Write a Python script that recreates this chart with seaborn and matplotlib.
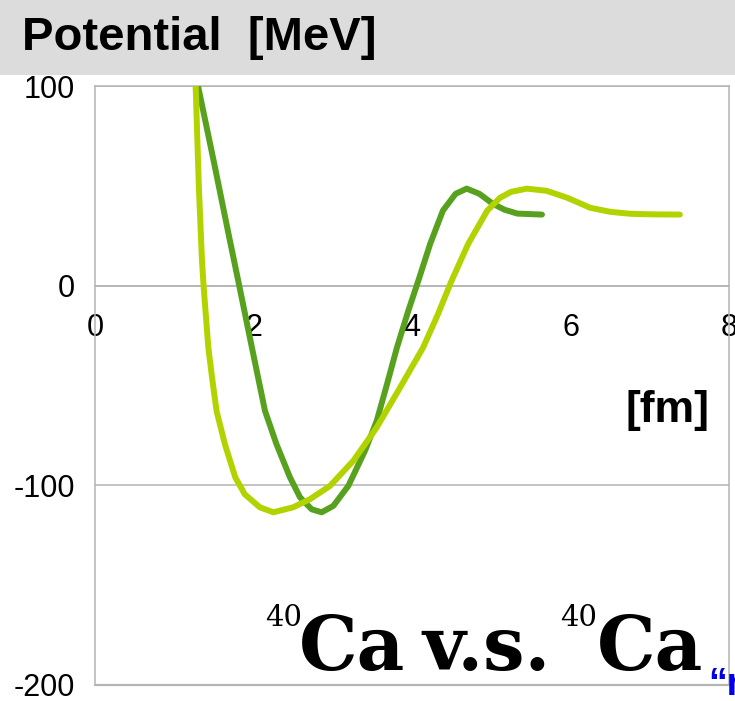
import matplotlib
matplotlib.use("Agg")
import matplotlib.pyplot as plt
import matplotlib.ticker as mticker
from matplotlib.patches import Rectangle
import pandas as pd
import seaborn as sns

# potentials (r in fm, V in MeV)
r_dark = [1.30, 1.50, 1.70, 1.82, 1.98, 2.145, 2.29, 2.46, 2.587, 2.734, 2.86, 3.007,
          3.196, 3.407, 3.555, 3.68, 3.81, 3.95, 4.08, 4.23, 4.39, 4.55, 4.69, 4.85,
          5.02, 5.17, 5.33, 5.64]
v_dark = [100, 62, 23, 0, -31, -62.7, -79.4, -96, -106, -112, -113.5, -110.3,
          -100.3, -82.7, -67.7, -50, -31, -13, 2.5, 21, 37.6, 46, 48.6, 46,
          41, 38, 36.1, 35.6]

r_light = [1.27, 1.31, 1.35, 1.37, 1.43, 1.48, 1.535, 1.64, 1.77, 1.89, 2.08, 2.25,
           2.50, 2.71, 2.965, 3.26, 3.555, 3.85, 4.14, 4.32, 4.50, 4.71, 4.95, 5.11,
           5.25, 5.45, 5.70, 5.96, 6.25, 6.50, 6.75, 7.05, 7.38]
v_light = [100, 50, 12.5, 0, -31, -47, -63, -79.5, -96, -104.5, -111, -113.5,
           -111, -107, -100.3, -87.7, -71, -51, -31, -15, 2.5, 21, 37.6, 44,
           47, 48.6, 47.5, 44, 39, 37, 36, 35.7, 35.6]

colors = {"dark": "#58a11f", "light": "#b3d300"}

df = pd.concat([
    pd.DataFrame({"r": r_dark, "V": v_dark, "series": "dark"}),
    pd.DataFrame({"r": r_light, "V": v_light, "series": "light"}),
])

sns.set_style("white")
plt.rcParams["font.family"] = ["Liberation Sans", "DejaVu Sans"]
plt.rcParams["text.color"] = "black"
plt.rcParams["axes.unicode_minus"] = False

W, H = 735, 701
fig = plt.figure(figsize=(W / 100, H / 100), dpi=100)
ax = fig.add_axes([95 / W, (H - 685) / H, (729 - 95) / W, (685 - 86) / H])

# grey header band
fig.patches.append(Rectangle((0, 1 - 75 / H), 1, 75 / H, transform=fig.transFigure,
                             facecolor="#dcdcdc", edgecolor="none", zorder=0))

sns.lineplot(data=df, x="r", y="V", hue="series", palette=colors, sort=False,
             estimator=None, legend=False, linewidth=4.3, ax=ax, zorder=3)

grey = "#b4b4b4"
ax.set_xlim(0, 8)
ax.set_ylim(-200, 100)
ax.xaxis.set_major_locator(mticker.MultipleLocator(2))
ax.xaxis.set_minor_locator(mticker.MultipleLocator(1))
ax.yaxis.set_major_locator(mticker.MultipleLocator(100))
ax.yaxis.set_minor_locator(mticker.MultipleLocator(20))
ax.spines["bottom"].set_position(("data", 0))
for s in ax.spines.values():
    s.set_color(grey)
    s.set_linewidth(1.1)
ax.yaxis.grid(True, which="major", color=grey, linewidth=1.1)
ax.axhline(-200, color=grey, linewidth=1.6, clip_on=False)
ax.set_xlabel("")
ax.set_ylabel("")

ax.tick_params(axis="x", which="major", direction="inout", length=16, width=1.1,
               color=grey, labelsize=22, pad=12, labelcolor="black")
ax.tick_params(axis="x", which="minor", direction="inout", length=11.5, width=1.1, color=grey)
ax.tick_params(axis="y", which="major", direction="out", length=7.2, width=1.1,
               color=grey, labelsize=22, pad=7, labelcolor="black")
ax.tick_params(axis="y", which="minor", direction="out", length=5.8, width=1.1, color=grey)

fig.text(22 / W, 1 - 50 / H, "Potential  [MeV]", fontsize=34, fontweight="bold",
         ha="left", va="baseline")
fig.text(667 / W, 1 - 422 / H, "[fm]", fontsize=32, fontweight="bold",
         ha="center", va="baseline")

# 40Ca v.s. 40Ca, set piece by piece
serif = "DejaVu Serif"
big = 53
fig.text(265 / W, 1 - 626 / H, "40", fontsize=21, family=serif, ha="left", va="baseline")
fig.text(299 / W, 1 - 670 / H, "Ca", fontsize=big, fontweight="bold", family=serif,
         ha="left", va="baseline")
fig.text(422 / W, 1 - 670 / H, "v.s.", fontsize=big, fontweight="bold", family=serif,
         ha="left", va="baseline")
fig.text(560 / W, 1 - 626 / H, "40", fontsize=21, family=serif, ha="left", va="baseline")
fig.text(597 / W, 1 - 670 / H, "Ca", fontsize=big, fontweight="bold", family=serif,
         ha="left", va="baseline")
fig.text(708 / W, 1 - 695 / H, "\u201crigid\u201d", fontsize=27, fontweight="bold",
         color="#0000e6", ha="left", va="baseline")

fig.savefig("out.png", dpi=100)
